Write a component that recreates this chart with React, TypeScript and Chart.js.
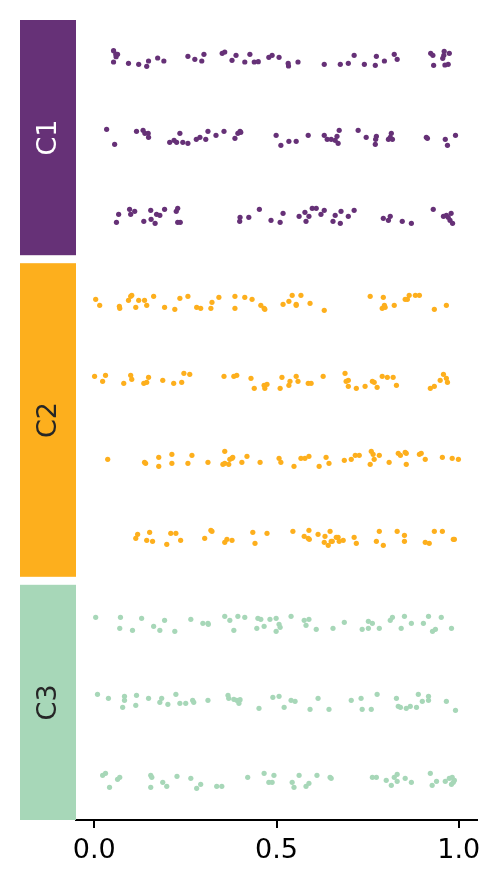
import React, { useEffect, useRef } from "react";
import { Chart, registerables } from "chart.js";

Chart.register(...registerables);

// Groups and their rows
const GROUPS = ["C1", "C2", "C3"];
const ROWS_PER_GROUP = [3, 4, 3];
const GROUP_COLORS = ["#663177", "#FDAF1D", "#A7D7B8"];
const GROUP_LABEL_COLORS = ["#ffffff", "#262626", "#262626"];
const GROUP_GAP = 0.102;
const X_TICKS = [0, 0.5, 1.0];

// Row values (x) and vertical jitter (fraction of a row)
const r1x = [0.053,0.059,0.064,0.060,0.053,0.094,0.122,0.144,0.149,0.174,0.191,0.257,0.276,0.295,0.301,0.351,0.358,0.378,0.389,0.413,0.427,0.439,0.450,0.479,0.488,0.507,0.532,0.533,0.559,0.631,0.675,0.697,0.713,0.741,0.771,0.774,0.796,0.823,0.831,0.923,0.929,0.931,0.956,0.959,0.960,0.974,0.962,0.971];
const r1j = [-0.109,-0.066,-0.062,-0.032,0.036,0.053,0.066,0.091,0.023,-0.015,0.023,-0.037,0.002,0.023,-0.062,-0.075,-0.092,0.014,-0.049,0.036,-0.062,0.036,0.031,-0.024,-0.049,-0.024,0.053,0.087,0.036,0.066,0.066,0.053,-0.049,0.066,0.078,-0.037,0.023,-0.062,0.002,-0.075,-0.049,0.078,-0.011,-0.049,-0.100,-0.075,0.074,0.066];

const r2x = [0.034,0.056,0.116,0.134,0.139,0.148,0.149,0.207,0.219,0.226,0.235,0.243,0.257,0.280,0.290,0.306,0.312,0.334,0.356,0.386,0.394,0.400,0.402,0.499,0.512,0.534,0.554,0.587,0.631,0.639,0.650,0.661,0.666,0.672,0.669,0.724,0.746,0.771,0.774,0.772,0.807,0.815,0.812,0.818,0.911,0.914,0.963,0.969,0.991];
const r2j = [-0.105,0.086,-0.080,-0.093,-0.054,-0.054,-0.003,0.060,0.035,0.060,-0.054,0.060,0.073,0.022,-0.003,0.022,-0.080,-0.029,-0.080,0.009,-0.054,-0.080,-0.067,-0.029,0.099,0.048,0.048,-0.029,-0.029,0.022,0.022,0.035,-0.016,-0.093,0.073,-0.093,-0.003,0.086,-0.016,0.022,0.022,-0.054,-0.003,0.022,-0.003,0.009,0.022,0.099,-0.029];

const r3x = [0.067,0.061,0.097,0.100,0.111,0.136,0.155,0.156,0.167,0.171,0.180,0.193,0.225,0.229,0.229,0.236,0.400,0.399,0.424,0.453,0.485,0.510,0.518,0.562,0.578,0.581,0.589,0.598,0.609,0.622,0.631,0.655,0.661,0.675,0.677,0.697,0.713,0.793,0.807,0.812,0.845,0.870,0.930,0.958,0.966,0.971,0.979,0.976,0.983];
const r3j = [-0.021,0.081,-0.085,-0.021,-0.060,0.068,-0.072,0.043,0.094,-0.021,-0.009,-0.085,-0.060,-0.098,0.081,0.081,0.017,0.068,0.017,-0.085,0.055,0.081,-0.034,0.004,-0.047,0.068,0.004,-0.098,-0.098,-0.021,-0.072,0.068,-0.009,0.094,-0.060,0.004,-0.072,0.030,0.055,0.004,0.068,0.094,-0.085,0.004,-0.009,0.017,-0.034,0.055,0.094];

const r4x = [0.004,0.015,0.069,0.070,0.094,0.100,0.103,0.114,0.122,0.138,0.144,0.163,0.193,0.221,0.235,0.257,0.281,0.292,0.320,0.323,0.342,0.386,0.386,0.413,0.433,0.457,0.466,0.468,0.518,0.534,0.543,0.554,0.554,0.567,0.592,0.631,0.757,0.793,0.790,0.796,0.798,0.823,0.853,0.859,0.864,0.881,0.892,0.933,0.966];
const r4j = [-0.039,0.037,0.050,0.076,-0.026,-0.077,-0.090,0.063,-0.026,-0.026,0.037,-0.077,0.063,0.088,-0.052,-0.077,0.063,0.076,0.076,-0.001,-0.065,-0.077,0.076,-0.065,-0.039,0.037,0.076,0.088,0.025,-0.014,-0.090,0.025,0.037,-0.090,0.012,0.101,-0.077,-0.065,0.076,0.037,0.063,0.037,-0.039,-0.039,-0.090,-0.090,-0.090,0.088,0.037];

const r5x = [0.001,0.023,0.031,0.081,0.100,0.103,0.136,0.144,0.149,0.188,0.218,0.240,0.246,0.262,0.356,0.383,0.391,0.430,0.439,0.466,0.468,0.474,0.510,0.515,0.534,0.537,0.554,0.559,0.587,0.595,0.628,0.688,0.691,0.697,0.697,0.719,0.743,0.763,0.768,0.776,0.790,0.804,0.820,0.829,0.922,0.933,0.949,0.958,0.966,0.969];
const r5j = [-0.057,0.007,-0.070,0.032,-0.070,-0.019,0.032,0.020,-0.044,-0.006,0.032,0.020,-0.095,-0.082,-0.057,-0.057,-0.070,-0.031,0.096,0.058,0.096,0.045,0.096,-0.044,0.058,0.007,-0.057,0.007,0.032,0.032,-0.057,-0.095,0.007,-0.006,0.071,0.096,0.071,0.007,0.020,0.083,-0.057,-0.044,-0.044,0.058,0.096,0.071,-0.006,-0.082,-0.031,0.020];

const r6x = [0.037,0.138,0.141,0.177,0.177,0.213,0.213,0.257,0.268,0.312,0.353,0.358,0.358,0.369,0.372,0.378,0.380,0.405,0.419,0.455,0.507,0.512,0.548,0.567,0.578,0.589,0.617,0.636,0.644,0.686,0.705,0.716,0.727,0.757,0.760,0.765,0.768,0.782,0.809,0.834,0.840,0.853,0.856,0.856,0.892,0.897,0.908,0.955,0.982,0.999];
const r6j = [0.002,0.040,0.053,-0.024,0.091,-0.062,0.053,0.053,-0.049,0.040,0.065,-0.100,0.053,0.065,0.002,-0.011,-0.024,0.040,-0.037,0.040,-0.011,0.040,0.091,-0.011,-0.011,-0.037,0.091,-0.024,0.053,0.014,0.002,-0.049,-0.049,0.065,-0.100,-0.062,0.002,-0.049,0.040,-0.075,-0.049,-0.088,-0.075,0.065,-0.062,-0.075,0.002,-0.024,-0.011,0.002];

const r7x = [0.114,0.119,0.144,0.152,0.160,0.199,0.210,0.224,0.237,0.303,0.320,0.323,0.358,0.364,0.378,0.435,0.441,0.474,0.545,0.576,0.587,0.589,0.590,0.614,0.631,0.633,0.642,0.647,0.650,0.653,0.664,0.669,0.672,0.683,0.713,0.719,0.774,0.782,0.793,0.831,0.851,0.851,0.908,0.919,0.933,0.955,0.985,0.988];
const r7j = [0.009,-0.042,0.035,-0.067,0.048,0.086,-0.054,-0.054,0.035,0.009,-0.093,-0.080,0.060,0.022,0.035,-0.067,0.073,-0.054,-0.080,-0.016,0.009,-0.093,0.022,-0.042,0.060,-0.016,0.099,-0.080,0.048,0.048,-0.003,-0.003,0.048,0.035,-0.003,0.073,0.048,-0.080,0.099,-0.080,-0.029,0.048,0.060,0.073,-0.080,-0.080,0.022,0.022];

const r8x = [0.004,0.072,0.070,0.105,0.130,0.163,0.180,0.193,0.221,0.265,0.298,0.312,0.313,0.358,0.372,0.383,0.394,0.413,0.446,0.449,0.457,0.466,0.482,0.499,0.499,0.507,0.510,0.540,0.576,0.581,0.589,0.609,0.655,0.686,0.735,0.752,0.752,0.763,0.782,0.812,0.818,0.842,0.851,0.870,0.903,0.917,0.928,0.936,0.952,0.980];
const r8j = [-0.085,-0.085,0.055,0.081,-0.072,0.030,0.081,-0.047,0.094,-0.060,-0.009,-0.009,0.004,-0.098,-0.047,0.081,-0.098,-0.085,0.055,-0.072,-0.060,0.030,-0.060,-0.072,0.094,0.004,0.043,-0.098,-0.047,0.017,-0.060,0.068,0.055,-0.021,0.068,-0.034,0.055,-0.009,0.055,-0.047,-0.085,0.055,-0.098,-0.009,-0.009,-0.098,0.094,0.068,-0.085,0.055];

const r9x = [0.009,0.039,0.083,0.083,0.078,0.116,0.114,0.149,0.180,0.185,0.202,0.224,0.235,0.251,0.270,0.273,0.312,0.367,0.369,0.383,0.391,0.397,0.400,0.452,0.490,0.507,0.521,0.540,0.551,0.592,0.614,0.644,0.705,0.732,0.735,0.760,0.776,0.829,0.834,0.840,0.856,0.867,0.884,0.889,0.900,0.917,0.917,0.966,0.991];
const r9j = [-0.103,-0.052,-0.077,-0.026,0.063,-0.090,0.037,-0.052,-0.001,-0.052,0.025,-0.103,0.012,0.012,-0.026,-0.001,-0.026,-0.090,-0.052,-0.039,-0.026,0.012,-0.035,0.076,-0.065,-0.077,0.063,-0.026,-0.014,0.088,-0.052,0.088,-0.026,-0.052,0.088,0.088,-0.103,-0.052,0.050,0.063,0.076,0.050,0.063,-0.103,-0.014,-0.077,-0.026,-0.014,0.101];

const r10x = [0.023,0.031,0.042,0.064,0.070,0.155,0.158,0.155,0.188,0.199,0.227,0.265,0.281,0.292,0.336,0.350,0.421,0.466,0.479,0.488,0.493,0.543,0.548,0.562,0.581,0.589,0.611,0.647,0.650,0.763,0.774,0.801,0.815,0.823,0.831,0.831,0.853,0.870,0.922,0.927,0.939,0.963,0.974,0.982,0.980,0.985,0.988];
const r10j = [-0.070,-0.095,0.083,-0.019,-0.044,-0.070,-0.044,0.083,0.020,0.071,-0.057,-0.031,0.096,0.045,0.071,0.071,-0.044,-0.095,0.020,0.020,-0.070,0.020,0.083,-0.070,0.071,0.032,-0.070,-0.044,-0.031,-0.044,-0.044,-0.006,0.058,-0.044,-0.082,0.007,-0.031,0.020,-0.095,0.058,0.007,0.007,-0.031,-0.044,0.045,0.020,-0.006];

const ROW_X = [r1x, r2x, r3x, r4x, r5x, r6x, r7x, r8x, r9x, r10x];
const ROW_J = [r1j, r2j, r3j, r4j, r5j, r6j, r7j, r8j, r9j, r10j];

const FONT = "'DejaVu Sans', sans-serif";

export default function App() {
  const canvasRef = useRef<HTMLCanvasElement | null>(null);

  useEffect(() => {
    const canvas = canvasRef.current;
    if (!canvas) return;

    // group spans in y units
    const spans: { start: number; end: number }[] = [];
    let cursor = 0;
    ROWS_PER_GROUP.forEach((n, g) => {
      spans.push({ start: cursor, end: cursor + n });
      cursor += n + GROUP_GAP;
    });
    const yMax = cursor - GROUP_GAP;

    const datasets: any[] = [];
    let rowIdx = 0;
    ROWS_PER_GROUP.forEach((n, g) => {
      for (let r = 0; r < n; r++) {
        const center = spans[g].start + r + 0.5;
        const xs = ROW_X[rowIdx];
        const js = ROW_J[rowIdx];
        datasets.push({
          label: GROUPS[g] + "-" + (r + 1),
          data: xs.map((v, k) => ({ x: v, y: center + js[k] })),
          backgroundColor: GROUP_COLORS[g],
          borderWidth: 0,
          pointRadius: 2.6,
          pointHoverRadius: 2.6,
        });
        rowIdx++;
      }
    });

    const bandPlugin = {
      id: "bands",
      afterDraw(chart: any) {
        const { ctx, chartArea, scales } = chart;
        const y = scales.y;
        const bandLeft = chartArea.left - 56;
        spans.forEach((s, g) => {
          const top = y.getPixelForValue(s.start);
          const bottom = y.getPixelForValue(s.end);
          ctx.save();
          ctx.fillStyle = GROUP_COLORS[g];
          ctx.fillRect(bandLeft, top, chartArea.left - bandLeft, bottom - top);
          ctx.translate(bandLeft + (chartArea.left - bandLeft) / 2, (top + bottom) / 2);
          ctx.rotate(-Math.PI / 2);
          ctx.fillStyle = GROUP_LABEL_COLORS[g];
          ctx.font = "27px " + FONT;
          ctx.textAlign = "center";
          ctx.textBaseline = "middle";
          ctx.fillText(GROUPS[g], 0, 1);
          ctx.restore();
        });
      },
    };

    const chart = new Chart(canvas, {
      type: "scatter",
      data: { datasets },
      options: {
        animation: false,
        responsive: false,
        events: [],
        layout: { padding: { left: 76, right: 23, top: 20, bottom: 0 } },
        plugins: { legend: { display: false }, tooltip: { enabled: false } },
        scales: {
          x: {
            type: "linear",
            min: -0.05,
            max: 1.05,
            afterBuildTicks: (scale: any) => {
              scale.ticks = X_TICKS.map((v) => ({ value: v }));
            },
            afterFit: (scale: any) => {
              scale.height = 67;
            },
            grid: {
              drawOnChartArea: false,
              drawTicks: true,
              tickLength: 8,
              lineWidth: 2,
              color: "#000000",
            },
            border: { display: true, color: "#000000", width: 2 },
            ticks: {
              padding: 7,
              color: "#000000",
              font: { family: FONT, size: 27, lineHeight: 1.2 },
              maxRotation: 0,
              callback: (v: any) => Number(v).toFixed(1),
            },
          },
          y: {
            type: "linear",
            display: false,
            min: 0,
            max: yMax,
            reverse: true,
          },
        },
      },
      plugins: [bandPlugin],
    });

    return () => chart.destroy();
  }, []);

  return (
    <div style={{ position: "absolute", left: 0, top: 0, width: 500, height: 887 }}>
      <canvas ref={canvasRef} width={500} height={887} />
    </div>
  );
}
